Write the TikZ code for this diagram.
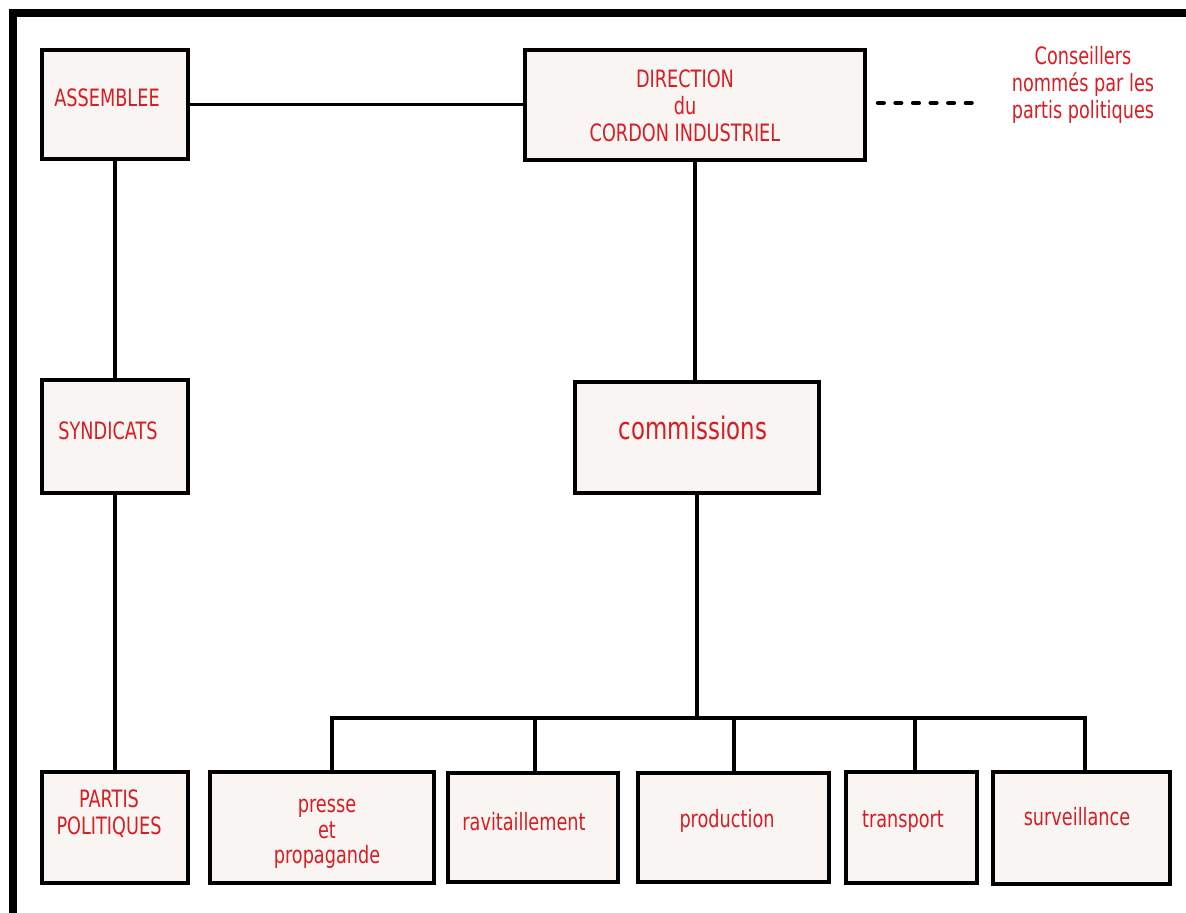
\documentclass[tikz,border=0pt]{standalone}
\usepackage{xcolor}
\usepackage{tikz}
\usepackage{fontspec}
\usetikzlibrary{fit}
\newfontfamily\lblfont{DejaVu Sans}[FakeStretch=0.74]
\definecolor{lblred}{RGB}{214,30,36}
\definecolor{boxfill}{RGB}{248,245,243}
\tikzset{
  box/.style={draw, line width=2.6pt, fill=boxfill, inner sep=0pt},
  conn/.style={line width=2.4pt},
  lbl/.style={text=lblred, inner sep=0pt, align=center, font=\lblfont\fontsize{17}{19.4}\selectfont},
}
\begin{document}
\begin{tikzpicture}[x=0.025cm, y=-0.025cm]
\useasboundingbox (0,0) rectangle (1186,913);
\fill[white] (0,0) rectangle (1186,913);
\fill[black] (9,9) rectangle (1186,17);
\fill[black] (9,9) rectangle (17,913);

\node[box, fit={(42,50) (188,159)}] (asm) {};
\node[box, fit={(525,50) (865,160)}] (dir) {};
\node[box, fit={(42,380) (188,493)}] (syn) {};
\node[box, fit={(575,382) (819,493)}] (com) {};
\node[box, fit={(42,772) (188,883)}] (par) {};
\node[box, fit={(210,772) (434,883)}] (pre) {};
\node[box, fit={(448,773) (618,882)}] (rav) {};
\node[box, fit={(638,773) (829,882)}] (prod) {};
\node[box, fit={(846,772) (977,883)}] (tra) {};
\node[box, fit={(993,772) (1170,884)}] (sur) {};

\node[lbl, anchor=base] (asm-t) at (107,107) {ASSEMBLEE};
\node[lbl] (dir-t) at (685,106) {DIRECTION\\du\\CORDON INDUSTRIEL};
\node[lbl] (cons-t) at (1083,85) {Conseillers\\nommés par les\\partis politiques};
\node[lbl, anchor=base] (syn-t) at (108,439) {SYNDICATS};
\node[lbl, anchor=base, font=\lblfont\fontsize{22}{24}\selectfont] (com-t) at (693,439) {commissions};
\node[lbl] (par-t) at (109,814) {PARTIS\\POLITIQUES};
\node[lbl, font=\lblfont\fontsize{17}{18.2}\selectfont] (pre-t) at (327,834) {presse\\et\\propagande};
\node[lbl, anchor=base] (rav-t) at (524,830) {ravitaillement};
\node[lbl, anchor=base] (prod-t) at (727,827) {production};
\node[lbl, anchor=base] (tra-t) at (903,827) {transport};
\node[lbl, anchor=base] (sur-t) at (1077,825) {surveillance};

\draw[conn] (asm.east) -- (asm.east -| dir.west);
\draw[conn] (asm.south) -- (syn.north);
\draw[conn] (syn.south) -- (par.north);
\draw[conn] (dir.south) -- (dir.south |- com.north);

\coordinate (busL) at (332,718);
\coordinate (busR) at (1085,718);
\draw[conn] (com.south) -- (com.south |- busL);
\draw[conn] (busL |- pre.north) -- (busL) -- (busR) -- (busR |- sur.north);
\draw[conn] (535,718) -- (535,773);
\draw[conn] (734,718) -- (734,773);
\draw[conn] (915,718) -- (915,772);

\coordinate (dashA) at (878,103);
\coordinate (dashB) at (978,103);
\draw[line width=3.2pt, line cap=round, dash pattern=on 4pt off 8.5pt] (dashA) -- (dashB);
\end{tikzpicture}
\end{document}
